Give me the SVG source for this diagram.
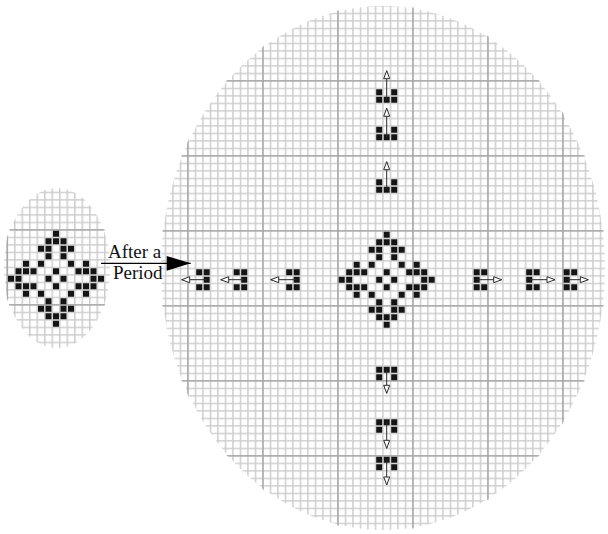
<svg xmlns="http://www.w3.org/2000/svg" xmlns:xlink="http://www.w3.org/1999/xlink" width="608" height="534" viewBox="0 0 608 534">
<style>
.cell{fill:#151515}
.major{stroke:#a3a3a3;stroke-width:1.3;fill:none}
.mv{stroke:#2a2a2a;stroke-width:1;fill:none}
.lbl{font-family:"Liberation Serif","Times New Roman",serif;font-size:19px;fill:#111}
</style>
<defs>
<pattern id="gB" patternUnits="userSpaceOnUse" x="382.2" y="230.2" width="7.5" height="7.5">
<rect width="7.5" height="7.5" fill="#fff"/><path d="M0 0H7.5V1.5H0Z M0 0H1.5V7.5H0Z" fill="#cdcdcd"/>
</pattern>
<pattern id="gS" patternUnits="userSpaceOnUse" x="51.5" y="229.2" width="7.5" height="7.5">
<rect width="7.5" height="7.5" fill="#fff"/><path d="M0 0H7.5V1.5H0Z M0 0H1.5V7.5H0Z" fill="#cdcdcd"/>
</pattern>
<clipPath id="cB"><ellipse cx="383" cy="268" rx="223" ry="263"/></clipPath>
<clipPath id="cS"><ellipse cx="57" cy="268" rx="54" ry="81"/></clipPath>
<path id="dm" class="cell" d="M45 0h6v6h-6z
M37.5 7.5h6v6h-6z M45 7.5h6v6h-6z M52.5 7.5h6v6h-6z
M30 15h6v6h-6z M37.5 15h6v6h-6z M52.5 15h6v6h-6z M60 15h6v6h-6z
M37.5 22.5h6v6h-6z M52.5 22.5h6v6h-6z
M15 30h6v6h-6z M30 30h6v6h-6z M60 30h6v6h-6z M75 30h6v6h-6z
M7.5 37.5h6v6h-6z M15 37.5h6v6h-6z M22.5 37.5h6v6h-6z M45 37.5h6v6h-6z M67.5 37.5h6v6h-6z M75 37.5h6v6h-6z M82.5 37.5h6v6h-6z
M0 45h6v6h-6z M7.5 45h6v6h-6z M37.5 45h6v6h-6z M52.5 45h6v6h-6z M82.5 45h6v6h-6z M90 45h6v6h-6z
M7.5 52.5h6v6h-6z M15 52.5h6v6h-6z M22.5 52.5h6v6h-6z M45 52.5h6v6h-6z M67.5 52.5h6v6h-6z M75 52.5h6v6h-6z M82.5 52.5h6v6h-6z
M15 60h6v6h-6z M30 60h6v6h-6z M60 60h6v6h-6z M75 60h6v6h-6z
M37.5 67.5h6v6h-6z M52.5 67.5h6v6h-6z
M30 75h6v6h-6z M37.5 75h6v6h-6z M52.5 75h6v6h-6z M60 75h6v6h-6z
M37.5 82.5h6v6h-6z M45 82.5h6v6h-6z M52.5 82.5h6v6h-6z
M45 90h6v6h-6z"/>
<path id="gl" class="cell" d="M0 0h6v6h-6z M7.5 0h6v6h-6z M7.5 7.5h6v6h-6z M0 15h6v6h-6z M7.5 15h6v6h-6z"/>
<path id="gr" class="cell" d="M0 0h6v6h-6z M7.5 0h6v6h-6z M0 7.5h6v6h-6z M0 15h6v6h-6z M7.5 15h6v6h-6z"/>
<path id="gu" class="cell" d="M0 0h6v6h-6z M15 0h6v6h-6z M0 7.5h6v6h-6z M7.5 7.5h6v6h-6z M15 7.5h6v6h-6z"/>
<path id="gd" class="cell" d="M0 0h6v6h-6z M7.5 0h6v6h-6z M15 0h6v6h-6z M0 7.5h6v6h-6z M15 7.5h6v6h-6z"/>
<marker id="oh" markerUnits="userSpaceOnUse" markerWidth="10" markerHeight="8" refX="8" refY="3" orient="auto" overflow="visible">
<path d="M0 0L8 3L0 6Z" fill="#fff" stroke="#2a2a2a" stroke-width="1"/>
</marker>
<marker id="big" markerUnits="userSpaceOnUse" markerWidth="25" markerHeight="15" refX="24" refY="7.35" orient="auto" overflow="visible">
<path d="M0 0L24 7.35L0 14.7Z" fill="#000"/>
</marker>
</defs>

<g id="board-small">
<ellipse cx="57" cy="268" rx="53" ry="80" fill="url(#gS)"/>
<g clip-path="url(#cS)">
<path class="major" d="M0 229.95H120 M0 304.95H120 M7.25 180V360"/>
</g>
</g>

<g id="board-large">
<ellipse cx="383" cy="268" rx="222" ry="262" fill="url(#gB)"/>
<g clip-path="url(#cB)">
<path class="major" d="M150 80.95H610 M150 155.95H610 M150 230.95H610 M150 305.95H610 M150 380.95H610 M150 455.95H610
M187.95 0V534 M262.95 0V534 M337.95 0V534 M412.95 0V534 M487.95 0V534 M562.95 0V534"/>
</g>
</g>

<g id="diamond-initial"><use xlink:href="#dm" href="#dm" x="8" y="230.7"/></g>
<g id="diamond-center"><use xlink:href="#dm" href="#dm" x="338.7" y="231.7"/></g>

<g id="glider-left-1"><use xlink:href="#gl" href="#gl" x="196.2" y="269.2"/></g>
<g id="glider-left-2"><use xlink:href="#gl" href="#gl" x="233.7" y="269.2"/></g>
<g id="glider-left-3"><use xlink:href="#gl" href="#gl" x="286.2" y="269.2"/></g>
<g id="glider-right-1"><use xlink:href="#gr" href="#gr" x="473.7" y="269.2"/></g>
<g id="glider-right-2"><use xlink:href="#gr" href="#gr" x="526.2" y="269.2"/></g>
<g id="glider-right-3"><use xlink:href="#gr" href="#gr" x="563.7" y="269.2"/></g>
<g id="glider-up-1"><use xlink:href="#gu" href="#gu" x="376.2" y="89.2"/></g>
<g id="glider-up-2"><use xlink:href="#gu" href="#gu" x="376.2" y="126.7"/></g>
<g id="glider-up-3"><use xlink:href="#gu" href="#gu" x="376.2" y="179.2"/></g>
<g id="glider-down-1"><use xlink:href="#gd" href="#gd" x="376.2" y="366.7"/></g>
<g id="glider-down-2"><use xlink:href="#gd" href="#gd" x="376.2" y="419.2"/></g>
<g id="glider-down-3"><use xlink:href="#gd" href="#gd" x="376.2" y="456.7"/></g>

<g id="label">
<text class="lbl" x="108" y="258.3">After a</text>
<text class="lbl" x="113" y="279.3">Period</text>
</g>

<g id="connectors">
<line x1="101" y1="263.3" x2="190.7" y2="263.3" stroke="#000" stroke-width="1.3" marker-end="url(#big)"/>
<line class="mv" x1="206.7" y1="279.7" x2="181.7" y2="279.7" marker-end="url(#oh)"/>
<line class="mv" x1="244.2" y1="279.7" x2="220.7" y2="279.7" marker-end="url(#oh)"/>
<line class="mv" x1="296.7" y1="279.7" x2="270.7" y2="279.7" marker-end="url(#oh)"/>
<line class="mv" x1="476.7" y1="279.7" x2="501.7" y2="279.7" marker-end="url(#oh)"/>
<line class="mv" x1="529.2" y1="279.7" x2="555" y2="279.7" marker-end="url(#oh)"/>
<line class="mv" x1="566.7" y1="279.7" x2="588.3" y2="279.7" marker-end="url(#oh)"/>
<line class="mv" x1="386.7" y1="99.7" x2="386.7" y2="70.7" marker-end="url(#oh)"/>
<line class="mv" x1="386.7" y1="137.2" x2="386.7" y2="108.3" marker-end="url(#oh)"/>
<line class="mv" x1="386.7" y1="189.7" x2="386.7" y2="161.7" marker-end="url(#oh)"/>
<line class="mv" x1="386.7" y1="369.7" x2="386.7" y2="393.3" marker-end="url(#oh)"/>
<line class="mv" x1="386.7" y1="422.2" x2="386.7" y2="448.3" marker-end="url(#oh)"/>
<line class="mv" x1="386.7" y1="459.7" x2="386.7" y2="485" marker-end="url(#oh)"/>
</g>
</svg>
